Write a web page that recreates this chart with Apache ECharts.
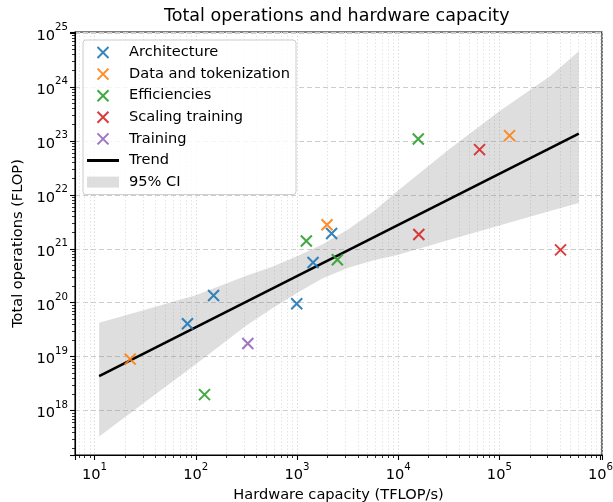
<!DOCTYPE html>
<html>
<head>
<meta charset="utf-8">
<script src="https://cdn.jsdelivr.net/npm/echarts@6/dist/echarts.min.js"></script>
<style>
  html, body { margin: 0; padding: 0; background: #fff; }
  #chart { width: 613px; height: 502px; }
</style>
</head>
<body>
<div id="chart"></div>
<script>
// ---- data ----
const SERIES_NAMES = ['Architecture', 'Data and tokenization', 'Efficiencies', 'Scaling training', 'Training'];
const ARCH_X = [82.8, 150, 995, 1442, 2200];
const ARCH_Y = [4.07e19, 1.36e20, 9.55e19, 5.57e20, 1.92e21];
const DATA_X = [22.5, 1982, 126000];
const DATA_Y = [9.0e18, 2.79e21, 1.25e23];
const EFF_X = [122, 1238, 2506, 15800];
const EFF_Y = [1.98e18, 1.39e21, 6.25e20, 1.08e23];
const SCALE_X = [16000, 63700, 402000];
const SCALE_Y = [1.84e21, 6.87e22, 9.55e20];
const TRAIN_X = [327];
const TRAIN_Y = [1.75e19];
const TREND_X = [11.1, 610000];
const TREND_Y = [4.35e18, 1.36e23];
const CI_X     = [11.1, 31.6, 100, 316, 562, 1000, 1778, 3162, 5623, 10000, 31623, 100000, 316228, 610000];
const CI_UPPER = [4.27e19, 7.41e19, 1.38e20, 3.16e20, 4.57e20, 7.24e20, 1.20e21, 2.26e21, 4.79e21, 1.20e22, 6.92e22, 3.55e23, 1.58e24, 4.57e24];
const CI_LOWER = [3.31e17, 1.45e18, 7.24e18, 3.80e19, 7.76e19, 1.51e20, 2.82e20, 4.42e20, 6.03e20, 7.76e20, 1.45e21, 2.69e21, 5.01e21, 7.08e21];
const X_MIN = 6.41, X_MAX = 1.033e6;
const Y_MIN = 1.507e17, Y_MAX = 1.04e25;

const COLORS = ['#1f77b4', '#ff7f0e', '#2ca02c', '#d62728', '#9467bd'];
const BAND_COLOR = 'rgba(128,128,128,0.26)';
const FONT = 'DejaVu Sans';
const X_ICON = 'path://M0,0L10,10M10,0L0,10';
const LINE_ICON = 'path://M0,0L32,0L32,3L0,3Z';

function zip(xs, ys) { return xs.map((x, i) => [x, ys[i]]); }
const POINTS = [zip(ARCH_X, ARCH_Y), zip(DATA_X, DATA_Y), zip(EFF_X, EFF_Y), zip(SCALE_X, SCALE_Y), zip(TRAIN_X, TRAIN_Y)];

function powLabel(v) {
  const e = Math.log10(v);
  const r = Math.round(e);
  if (Math.abs(e - r) > 1e-6) return '';
  return '{b|10}{s|' + r + '}';
}
const RICH = {
  b: { fontFamily: FONT, fontSize: 14.6, color: '#000', verticalAlign: 'bottom', lineHeight: 21 },
  s: { fontFamily: FONT, fontSize: 10.2, color: '#000', verticalAlign: 'top', lineHeight: 12 }
};

const chart = echarts.init(document.getElementById('chart'), null, { renderer: 'canvas' });

const series = [];
series.push({
  type: 'custom',
  name: '95% CI',
  coordinateSystem: 'cartesian2d',
  data: [[CI_X[0], CI_LOWER[0]]],
  silent: true,
  z: 1,
  itemStyle: { color: BAND_COLOR },
  renderItem: function (params, api) {
    const pts = [];
    for (let i = 0; i < CI_X.length; i++) pts.push(api.coord([CI_X[i], CI_UPPER[i]]));
    for (let i = CI_X.length - 1; i >= 0; i--) pts.push(api.coord([CI_X[i], CI_LOWER[i]]));
    return { type: 'polygon', shape: { points: pts, smooth: 0 }, style: { fill: BAND_COLOR } };
  }
});
series.push({
  type: 'line',
  name: 'Trend',
  data: zip(TREND_X, TREND_Y),
  symbol: 'none',
  z: 3,
  lineStyle: { color: '#000', width: 2.6 },
  itemStyle: { color: '#000' }
});
SERIES_NAMES.forEach((n, i) => {
  series.push({
    type: 'scatter',
    name: n,
    data: POINTS[i],
    symbol: X_ICON,
    symbolSize: 11,
    z: 4,
    itemStyle: { color: COLORS[i], borderColor: COLORS[i], borderWidth: 2, opacity: 0.9 }
  });
});

const option = {
  animation: false,
  backgroundColor: '#fff',
  title: {
    text: 'Total operations and hardware capacity',
    left: 164, top: 7, padding: 0,
    textStyle: { fontFamily: FONT, fontSize: 17.5, fontWeight: 'normal', color: '#000' }
  },
  grid: {
    left: 75, right: 11, top: 32, bottom: 47,
    show: true, borderColor: '#000', borderWidth: 1.1,
    outerBoundsMode: 'none'
  },
  legend: {
    orient: 'vertical',
    left: 83, top: 40,
    padding: [5, 6, 5, 4],
    itemWidth: 32, itemHeight: 11, itemGap: 6.6,
    backgroundColor: 'rgba(255,255,255,0.8)',
    borderColor: '#cccccc', borderWidth: 1, borderRadius: 3,
    textStyle: { fontFamily: FONT, fontSize: 14.6, color: '#000', lineHeight: 15, padding: [0, 0, 0, 5] },
    data: [
      { name: 'Architecture', icon: X_ICON },
      { name: 'Data and tokenization', icon: X_ICON },
      { name: 'Efficiencies', icon: X_ICON },
      { name: 'Scaling training', icon: X_ICON },
      { name: 'Training', icon: X_ICON },
      { name: 'Trend', icon: LINE_ICON, itemStyle: { color: '#000', borderWidth: 0 } },
      { name: '95% CI', icon: 'rect' }
    ]
  },
  xAxis: {
    type: 'log', logBase: 10, min: X_MIN, max: X_MAX,
    name: 'Hardware capacity (TFLOP/s)', nameLocation: 'middle', nameGap: 30,
    nameTextStyle: { fontFamily: FONT, fontSize: 14.6, color: '#000' },
    axisLine: { show: true, lineStyle: { color: '#000', width: 1.1 } },
    axisTick: { show: true, length: 5, lineStyle: { color: '#000', width: 1.1 } },
    minorTick: { show: true, splitNumber: 9, length: 3, lineStyle: { color: '#000', width: 0.8 } },
    axisLabel: { formatter: powLabel, rich: RICH, margin: 7, color: '#000' },
    splitLine: { show: true, lineStyle: { color: '#d6d6d6', width: 0.9, type: [1.5, 2] } },
    minorSplitLine: { show: true, lineStyle: { color: '#e2e2e2', width: 0.9, type: [1.5, 2] } }
  },
  yAxis: {
    type: 'log', logBase: 10, min: Y_MIN, max: Y_MAX,
    name: 'Total operations (FLOP)', nameLocation: 'middle', nameGap: 49,
    nameTextStyle: { fontFamily: FONT, fontSize: 14.6, color: '#000' },
    axisLine: { show: true, lineStyle: { color: '#000', width: 1.1 } },
    axisTick: { show: true, length: 5, lineStyle: { color: '#000', width: 1.1 } },
    minorTick: { show: true, splitNumber: 9, length: 3, lineStyle: { color: '#000', width: 0.8 } },
    axisLabel: { formatter: powLabel, rich: RICH, margin: 7, color: '#000' },
    splitLine: { show: true, lineStyle: { color: '#cccccc', width: 1, type: [5, 3] } },
    minorSplitLine: { show: false }
  },
  series: series
};
chart.setOption(option);
</script>
</body>
</html>
